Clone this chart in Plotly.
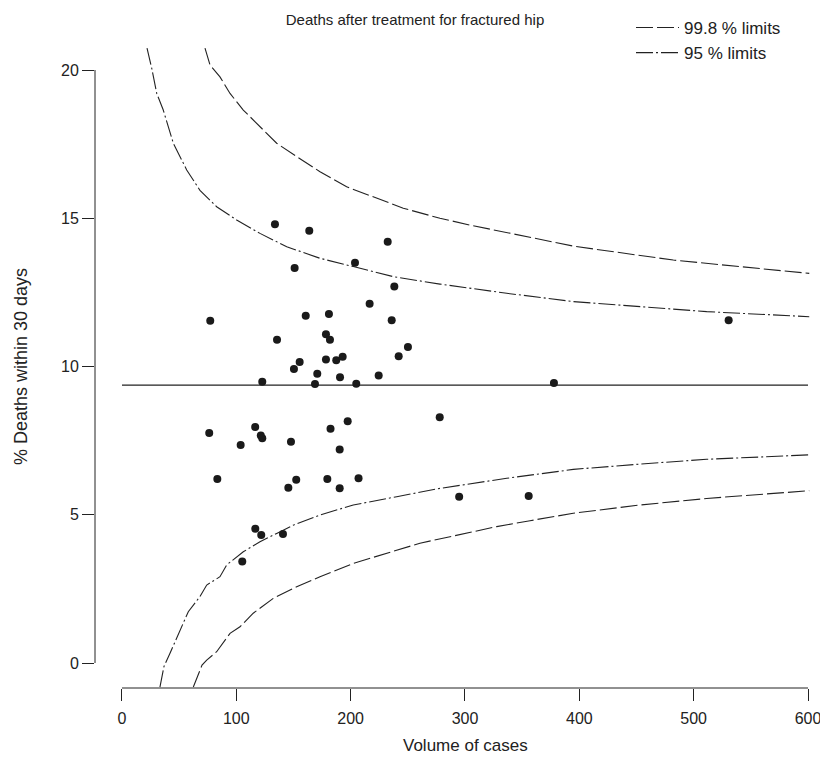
import plotly.graph_objects as go

# ---- data ----
volume = [133.8, 163.8, 232.4, 203.8, 151.0, 238.2, 216.6, 77.2, 160.7, 181.0,
          235.9, 178.4, 181.9, 135.6, 250.1, 242.0, 155.4, 150.4, 178.4, 187.4,
          193.0, 170.8, 190.7, 224.5, 122.7, 168.8, 204.9, 277.9, 197.4, 182.4,
          116.5, 76.3, 121.4, 122.7, 103.8, 147.8, 190.4, 83.4, 152.4, 145.5,
          179.6, 190.4, 206.9, 116.6, 121.8, 140.8, 105.2, 294.9, 355.7, 530.6,
          377.8]
deaths_pct = [14.80, 14.58, 14.21, 13.50, 13.32, 12.70, 12.12, 11.54, 11.71, 11.77,
              11.56, 11.09, 10.90, 10.90, 10.66, 10.35, 10.15, 9.92, 10.24, 10.21,
              10.33, 9.76, 9.64, 9.70, 9.49, 9.41, 9.42, 8.29, 8.15, 7.90,
              7.96, 7.76, 7.67, 7.58, 7.35, 7.46, 7.20, 6.21, 6.18, 5.91,
              6.21, 5.89, 6.23, 4.53, 4.32, 4.35, 3.42, 5.61, 5.63, 11.56,
              9.44]

overall_pct = 9.37
mean_x = [0, 600]

up95_x = [21.9, 26.0, 30.4, 36.1, 44.9, 56.6, 68.2, 82.8, 100.3, 120.7, 144.1,
          173.2, 202.3, 237.3, 278.1, 336.5, 394.7, 453.1, 511.4, 601.1]
up95_y = [20.74, 20.06, 19.21, 18.65, 17.53, 16.63, 15.94, 15.39, 14.94, 14.49, 14.04,
          13.65, 13.37, 13.03, 12.78, 12.47, 12.19, 12.02, 11.85, 11.68]
lo95_x = [33.2, 36.7, 42.0, 50.7, 58.0, 68.2, 74.1, 85.7, 91.6, 106.1, 120.7, 135.3,
          149.8, 173.2, 202.3, 240.3, 278.1, 336.5, 394.7, 453.1, 511.4, 601.1]
lo95_y = [-0.81, -0.12, 0.33, 1.11, 1.73, 2.24, 2.63, 2.91, 3.31, 3.75, 4.09, 4.37,
          4.65, 4.99, 5.33, 5.61, 5.89, 6.23, 6.53, 6.71, 6.87, 7.02]

up998_x = [72.6, 77.0, 85.7, 94.5, 106.1, 120.7, 135.3, 152.8, 173.2, 196.5, 219.8,
           246.0, 278.1, 304.4, 394.7, 482.2, 601.1]
up998_y = [20.74, 20.17, 19.77, 19.21, 18.65, 18.09, 17.53, 17.08, 16.57, 16.06, 15.73,
           15.34, 15.00, 14.77, 14.06, 13.59, 13.14]
lo998_x = [62.4, 70.0, 74.1, 82.8, 94.5, 103.2, 114.8, 132.3, 152.8, 173.2, 202.3,
           231.5, 260.6, 286.9, 327.7, 356.9, 394.7, 453.1, 511.4, 601.1]
lo998_y = [-0.81, -0.07, 0.10, 0.38, 1.00, 1.22, 1.68, 2.18, 2.57, 2.91, 3.36,
           3.70, 4.04, 4.26, 4.60, 4.80, 5.05, 5.33, 5.55, 5.81]

x_ticks = [0, 100, 200, 300, 400, 500, 600]
y_ticks = [0, 5, 10, 15, 20]

FONT = "Liberation Sans, Arial, Helvetica, sans-serif"
INK = "#222222"

# page geometry: the figure sits at an 8px body offset inside the 828x762 window
FIG_W, FIG_H = 820, 746
M_L, M_R, M_T, M_B = 87, 12, 38, 66
PW = FIG_W - M_L - M_R   # plot width in px
PH = FIG_H - M_T - M_B   # plot height in px

fig = go.Figure()

fig.add_trace(go.Scatter(
    x=up998_x + [None] + lo998_x, y=up998_y + [None] + lo998_y,
    mode="lines", name="99.8 % limits",
    line=dict(color=INK, width=1.1, dash="17px,4px"),
    connectgaps=False))
fig.add_trace(go.Scatter(
    x=up95_x + [None] + lo95_x, y=up95_y + [None] + lo95_y,
    mode="lines", name="95 % limits",
    line=dict(color=INK, width=1.1, dash="17px,3px,2px,3px"),
    connectgaps=False))
fig.add_trace(go.Scatter(
    x=mean_x, y=[overall_pct, overall_pct], mode="lines", showlegend=False,
    line=dict(color=INK, width=1.3)))
fig.add_trace(go.Scatter(
    x=volume, y=deaths_pct, mode="markers", showlegend=False,
    marker=dict(color="#1a1a1a", size=8, line=dict(width=0))))

# detached R-style axis lines
fig.add_shape(type="line", xref="x", yref="paper", x0=x_ticks[0], x1=x_ticks[-1],
              y0=0, y1=0, line=dict(color=INK, width=1))
fig.add_shape(type="line", xref="paper", yref="y", x0=0, x1=0,
              y0=y_ticks[0], y1=y_ticks[-1], line=dict(color=INK, width=1))

x_right = (M_L + PW - (122 - 8)) / 1.14333
fig.update_xaxes(range=[-23.6, x_right], tickvals=x_ticks, ticks="outside", ticklen=12,
                 tickcolor=INK, tickwidth=1, showline=False, showgrid=False,
                 zeroline=False, ticklabelstandoff=4, ticklabeloverflow="allow",
                 automargin=False,
                 tickfont=dict(family=FONT, size=16, color=INK))
fig.update_yaxes(range=[-0.843, 20.81], tickvals=y_ticks, ticks="outside", ticklen=12,
                 tickcolor=INK, tickwidth=1, showline=False, showgrid=False,
                 zeroline=False, automargin=False,
                 tickfont=dict(family=FONT, size=16, color=INK))

fig.add_annotation(text="Volume of cases", xref="paper", yref="paper",
                   x=(465 - 95) / PW, y=-(746 - 688) / PH, xanchor="center",
                   yanchor="middle", showarrow=False,
                   font=dict(family=FONT, size=17, color=INK))
fig.add_annotation(text="% Deaths within 30 days", xref="paper", yref="paper",
                   x=(21 - 95) / PW, y=(688 - 367) / PH, xanchor="center",
                   yanchor="middle", textangle=-90, showarrow=False,
                   font=dict(family=FONT, size=18, color=INK))

fig.update_layout(
    width=FIG_W, height=FIG_H,
    margin=dict(l=M_L, r=M_R, t=M_T, b=M_B, autoexpand=False),
    paper_bgcolor="white", plot_bgcolor="white",
    title=dict(text="Deaths after treatment for fractured hip", x=(415 - 8) / FIG_W,
               xanchor="center", y=1 - 12 / FIG_H, yanchor="middle",
               font=dict(family=FONT, size=15, color=INK)),
    legend=dict(x=(631 - 95) / PW, y=(688 - 10) / PH, xanchor="left", yanchor="top",
                bgcolor="rgba(0,0,0,0)", font=dict(family=FONT, size=17, color=INK),
                tracegroupgap=0, itemwidth=43),
    showlegend=True,
)

fig.write_html("out.html")
